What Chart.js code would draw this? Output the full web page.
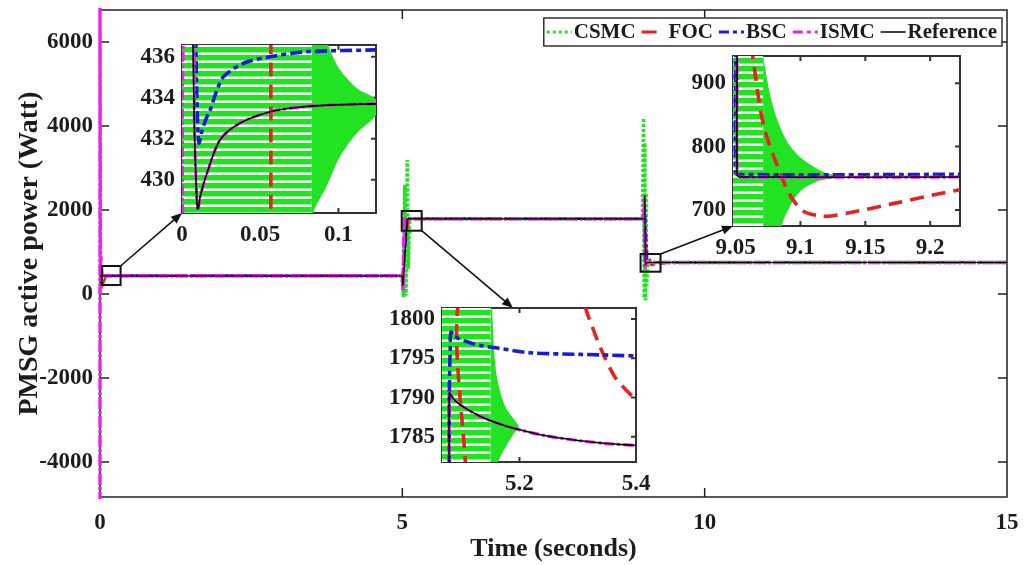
<!DOCTYPE html>
<html>
<head>
<meta charset="utf-8">
<title>PMSG active power</title>
<script src="https://cdn.jsdelivr.net/npm/chart.js@4.4.0/dist/chart.umd.min.js"></script>
<style>
  html, body { margin: 0; padding: 0; background: #fff; overflow: hidden; }
  #wrap { position: relative; width: 1025px; height: 565px; }
  #wrap canvas { position: absolute; }
</style>
</head>
<body>
<div id="wrap">
  <canvas id="main" width="1025" height="565" style="left:0;top:0"></canvas>
  <canvas id="in1"></canvas>
  <canvas id="in2"></canvas>
  <canvas id="in3"></canvas>
</div>
<script>
// ---------------- data: [time (s), power (W)] ----------------
const seriesNames = ['CSMC', 'FOC', 'BSC', 'ISMC', 'Reference'];

const mainXTicks = [0, 5, 10, 15];
const mainYTicks = [-4000, -2000, 0, 2000, 4000, 6000];

const csmcMain = [[0,434],[4.99,434],[5.02,-70],[5.04,2600],[5.06,-40],[5.08,3190],[5.1,600],[5.12,1790],
                  [8.97,1790],[8.99,4190],[9.0,-100],[9.01,3600],[9.02,-150],[9.03,2400],[9.04,200],[9.06,750],[15,750]];
const focMain  = [[0,0],[0.02,900],[0.05,250],[0.1,434],[5,434],[5.03,900],[5.1,1810],[5.4,1790],
                  [9,1790],[9.03,1100],[9.12,690],[9.4,750],[15,750]];
const bscMain  = [[0,434],[5,434],[5.01,300],[5.08,1798],[9,1790],[9.01,2100],[9.05,755],[15,755]];
const ismcMain = [[0,-5000],[0,7000],[0.008,434],[5,434],[5.01,80],[5.03,1790],[8.99,1790],[9,2300],[9.01,600],[9.03,750],[15,750]];
const refMain  = [[0,434],[5,434],[5.01,200],[5.08,1790],[9,1790],[9.01,2360],[9.02,700],[9.05,750],[15,750]];

// start-up detail, 0 – 0.124 s
const inset1XTicks = [0, 0.05, 0.1];
const inset1YTicks = [430, 432, 434, 436];
const csmcInset1Band = [[0,440],[0.083,440],[0.083,420],[0,420]];
const csmcInset1Tail = [[0.083,440],[0.0925,436.8],[0.097,435.9],[0.101,435.35],[0.1117,434.46],[0.124,433.9],
                        [0.124,433.16],[0.1117,432.27],[0.101,431.13],[0.0925,429.68],[0.0835,428.2],[0.083,420]];
const focInset1  = [[0.0568,440],[0.0568,420]];
const bscInset1  = [[0.0088,437],[0.0095,434],[0.0103,432.2],[0.011,431.79],[0.0125,432.3],[0.015,432.9],[0.018,433.4],
                    [0.022,434.3],[0.0266,435.03],[0.0393,435.68],[0.0564,436.0],[0.0798,436.24],[0.124,436.33]];
const ismcInset1 = [[0.001,420],[0.001,437.5],[0.0068,437.5],[0.008,432.27],[0.0091,429.67],[0.0098,428.6],[0.0104,428.6],
                    [0.0117,429.2],[0.016,430.33],[0.0244,431.95],[0.037,432.76],[0.0564,433.32],[0.0755,433.54],[0.0967,433.65],[0.124,433.7]];
const refInset1  = [[0.0068,437.5],[0.008,432.27],[0.0091,429.67],[0.0098,428.6],[0.0104,428.6],
                    [0.0117,429.2],[0.016,430.33],[0.0244,431.95],[0.037,432.76],[0.0564,433.32],[0.0755,433.54],[0.0967,433.65],[0.124,433.7]];

// step at 5 s, 5.067 – 5.4 s
const inset2XTicks = [5.2, 5.4];
const inset2YTicks = [1785, 1790, 1795, 1800];
const csmcInset2Band = [[5.06,1805],[5.150,1805],[5.150,1778],[5.06,1778]];
const csmcInset2Tail = [[5.150,1805],[5.153,1801.4],[5.156,1796.5],[5.162,1792.3],[5.176,1788.8],[5.196,1786.7],[5.199,1786.2],
                        [5.190,1785.4],[5.173,1783.3],[5.164,1781.8],[5.160,1778],[5.150,1778]];
const focInset2  = [[5.109,1778],[5.109,1806],[5.30,1806],[5.3135,1801.4],[5.325,1799],[5.341,1796.0],[5.363,1792.7],[5.38,1791.2],[5.4,1789.7]];
const bscInset2  = [[5.0795,1778],[5.0795,1790],[5.081,1796],[5.0825,1798.3],[5.09,1797.7],[5.11,1797.1],[5.135,1796.6],
                    [5.162,1796.3],[5.219,1795.7],[5.305,1795.5],[5.4,1795.3]];
const ismcInset2 = [[5.0796,1778],[5.0796,1790.6],[5.083,1790.2],[5.09,1789.6],[5.0985,1789.06],[5.115,1788.3],[5.133,1787.6],
                    [5.16,1786.8],[5.190,1786.1],[5.248,1785.1],[5.305,1784.5],[5.35,1784.15],[5.4,1783.9]];
const refInset2  = [[5.0796,1778],[5.0796,1790.6],[5.083,1790.2],[5.09,1789.6],[5.0985,1789.06],[5.115,1788.3],[5.133,1787.6],
                    [5.16,1786.8],[5.190,1786.1],[5.248,1785.1],[5.305,1784.5],[5.35,1784.15],[5.4,1783.9]];

// step at 9 s, 9.048 – 9.223 s
const inset3XTicks = [9.05, 9.1, 9.15, 9.2];
const inset3YTicks = [700, 800, 900];
const csmcInset3Band = [[9.04,960],[9.0712,960],[9.0712,660],[9.04,660]];
const csmcInset3Tail = [[9.0712,960],[9.0712,943],[9.0789,863],[9.0891,810],[9.0994,784],[9.1122,765.7],[9.12,757.8],[9.132,752.5],
                        [9.132,751.5],[9.12,748.3],[9.1122,744.5],[9.0994,728.8],[9.0891,694.6],[9.0855,674.7],[9.085,660],[9.0712,660]];
const focInset3  = [[9.0625,960],[9.0632,943],[9.0712,836.7],[9.0824,768.2],[9.0927,720.8],[9.103,697.1],[9.1158,690.4],
                    [9.1235,690.4],[9.1415,697.1],[9.1723,710.4],[9.212,727.8],[9.223,732]];
const bscInset3  = [[9.05,960],[9.05,762],[9.0515,756.2],[9.223,756.2]];
const ismcInset3 = [[9.0512,960],[9.0512,755],[9.053,752],[9.223,752]];
const refInset3  = [[9.0512,960],[9.0512,755],[9.053,752],[9.223,752]];

// ---------------- styles & layout ----------------
const FONT = 'Liberation Serif';
const TEXT = '#1c1c1c';
const COL = { CSMC: '#22e322', FOC: '#e62222', BSC: '#1a1ad8', ISMC: '#ee22ee', Reference: '#000000' };

// zoomed regions in data units, and where their detail panels sit on the page
const zoomRegions = [
  { t0: 0.03, t1: 0.34, p0: 214, p1: 667 },
  { t0: 4.99, t1: 5.32, p0: 1507, p1: 1976 },
  { t0: 8.94, t1: 9.27, p0: 531, p1: 952 }
];
const panels = {
  in1: { x: 182, y: 45, w: 194, h: 168, labelW: 64, labelH: 34 },
  in2: { x: 442, y: 308, w: 194, h: 154, labelW: 56, labelH: 36 },
  in3: { x: 733, y: 56, w: 227, h: 170, labelW: 60, labelH: 34 }
};

function lineDs(label, data, color, width, dash, order, tension) {
  return { label, data, borderColor: color, borderWidth: width, borderDash: dash || [],
           order, tension: tension || 0, pointRadius: 0, fill: false, clip: 0 };
}
function areaDs(data, fillStyle, order, tension) {
  return { data, borderWidth: 0, borderColor: 'rgba(0,0,0,0)', backgroundColor: fillStyle,
           fill: 'shape', pointRadius: 0, order, clip: 0, tension: tension || 0 };
}
function stripes(canvas) {
  const c = document.createElement('canvas');
  c.width = 4; c.height = 8;
  const g = c.getContext('2d');
  g.fillStyle = '#ffffff'; g.fillRect(0, 0, 4, 8);
  g.fillStyle = COL.CSMC; g.fillRect(0, 0, 4, 5.5);
  return canvas.getContext('2d').createPattern(c, 'repeat');
}

// box round the plot area with inward ticks on all four sides
const framePlugin = {
  id: 'frame',
  beforeDatasetsDraw(chart, args, o) {
    const { ctx, chartArea: a } = chart;
    const { x, y } = chart.scales;
    ctx.save();
    if (o.fill) { ctx.fillStyle = o.fill; ctx.fillRect(a.left, a.top, a.right - a.left, a.bottom - a.top); }
    ctx.strokeStyle = o.color; ctx.lineWidth = o.width;
    ctx.beginPath();
    for (const t of x.ticks) {
      const px = x.getPixelForValue(t.value);
      if (px <= a.left + 1 || px >= a.right - 1) continue;
      ctx.moveTo(px, a.bottom); ctx.lineTo(px, a.bottom - o.len);
      ctx.moveTo(px, a.top); ctx.lineTo(px, a.top + o.len);
    }
    for (const t of y.ticks) {
      const py = y.getPixelForValue(t.value);
      if (py <= a.top + 1 || py >= a.bottom - 1) continue;
      ctx.moveTo(a.left, py); ctx.lineTo(a.left + o.len, py);
      ctx.moveTo(a.right, py); ctx.lineTo(a.right - o.len, py);
    }
    ctx.stroke();
    ctx.strokeRect(a.left, a.top, a.right - a.left, a.bottom - a.top);
    ctx.restore();
  }
};

function arrow(ctx, x0, y0, x1, y1) {
  const a = Math.atan2(y1 - y0, x1 - x0), L = 11, W = 4.5;
  ctx.beginPath(); ctx.moveTo(x0, y0); ctx.lineTo(x1 - 6 * Math.cos(a), y1 - 6 * Math.sin(a)); ctx.stroke();
  ctx.beginPath();
  ctx.moveTo(x1, y1);
  ctx.lineTo(x1 - L * Math.cos(a) + W * Math.sin(a), y1 - L * Math.sin(a) - W * Math.cos(a));
  ctx.lineTo(x1 - L * Math.cos(a) - W * Math.sin(a), y1 - L * Math.sin(a) + W * Math.cos(a));
  ctx.closePath(); ctx.fill();
}

// zoom rectangles, pointer arrows and the legend box
const overlayPlugin = {
  id: 'overlay',
  afterDraw(chart) {
    const { ctx, chartArea: a } = chart;
    const { x, y } = chart.scales;
    ctx.save();
    ctx.strokeStyle = '#111'; ctx.fillStyle = '#111'; ctx.lineWidth = 2;
    const rects = zoomRegions.map(r => ({
      l: x.getPixelForValue(r.t0), r: x.getPixelForValue(r.t1),
      t: y.getPixelForValue(r.p1), b: y.getPixelForValue(r.p0)
    }));
    rects.forEach(r => ctx.strokeRect(r.l, r.t, r.r - r.l, r.b - r.t));
    ctx.lineWidth = 1.6;
    arrow(ctx, rects[0].r, rects[0].t, panels.in1.x, panels.in1.y + panels.in1.h);
    arrow(ctx, rects[1].r, rects[1].b, panels.in2.x + 71, panels.in2.y);
    arrow(ctx, rects[2].r, rects[2].t, panels.in3.x, panels.in3.y + panels.in3.h);

    // legend
    const dsByName = {};
    chart.data.datasets.forEach(d => { if (d.label) dsByName[d.label] = d; });
    ctx.font = 'bold 21px "' + FONT + '"';
    const sample = 26, gapIn = 2, gapOut = 5, padL = 2, padR = 5;
    let total = padL + padR;
    seriesNames.forEach((n, i) => {
      total += sample + gapIn + ctx.measureText(n).width + (i < seriesNames.length - 1 ? gapOut : 0);
    });
    const boxR = a.right - 5, boxL = boxR - total, boxT = a.top + 8, boxH = 28, cy = boxT + boxH / 2;
    ctx.fillStyle = '#fff'; ctx.fillRect(boxL, boxT, total, boxH);
    ctx.strokeStyle = '#333'; ctx.lineWidth = 1.5; ctx.strokeRect(boxL, boxT, total, boxH);
    let cx = boxL + padL;
    const legendDash = { CSMC: [3, 3], FOC: [15, 20], BSC: [10, 4, 4, 4], ISMC: [10, 4, 4, 4], Reference: [] };
    seriesNames.forEach(n => {
      const d = dsByName[n];
      ctx.save();
      ctx.strokeStyle = d.borderColor; ctx.lineWidth = n === 'Reference' ? 1.5 : 3;
      ctx.setLineDash(legendDash[n]);
      ctx.beginPath(); ctx.moveTo(cx + 1, cy); ctx.lineTo(cx + sample, cy); ctx.stroke();
      ctx.restore();
      cx += sample + gapIn;
      ctx.fillStyle = TEXT; ctx.textBaseline = 'middle'; ctx.textAlign = 'left';
      ctx.fillText(n, cx, cy + 1);
      cx += ctx.measureText(n).width + gapOut;
    });
    ctx.restore();
  }
};

function axis(ticksArr, min, max, fit, extra) {
  return Object.assign({
    type: 'linear', min, max,
    grid: { display: false, drawTicks: false },
    border: { display: false },
    afterBuildTicks: s => { s.ticks = ticksArr.map(v => ({ value: v })); },
    afterFit: fit,
    ticks: { autoSkip: false, maxRotation: 0, color: TEXT,
             font: { family: FONT, size: 23, weight: 'bold' }, callback: v => String(v) }
  }, extra || {});
}

// ---------------- main chart ----------------
const mainX = axis(mainXTicks, 0, 15, s => { s.height = 68; s.paddingLeft = 0; s.paddingRight = 0; }, {
  title: { display: true, text: 'Time (seconds)', color: TEXT,
           font: { family: FONT, size: 26, weight: 'bold' }, padding: { top: 0, bottom: 0 } }
});
const mainY = axis(mainYTicks, -4833, 6762, s => { s.width = 100; s.paddingTop = 0; s.paddingBottom = 0; }, {
  title: { display: true, text: 'PMSG active power (Watt)', color: TEXT,
           font: { family: FONT, size: 28, weight: 'bold' }, padding: { top: 13, bottom: 0 } }
});
mainX.ticks.padding = 12;
mainY.ticks.padding = 7;

new Chart(document.getElementById('main'), {
  type: 'line',
  data: {
    datasets: [
      lineDs('Reference', refMain, COL.Reference, 1.2, [], 0),
      lineDs('ISMC', ismcMain, COL.ISMC, 3.4, [12, 2, 3, 2], 1),
      lineDs('BSC', bscMain, COL.BSC, 2.5, [9, 3, 3, 3], 2),
      lineDs('FOC', focMain, COL.FOC, 2.5, [10, 6], 3),
      lineDs('CSMC', csmcMain, COL.CSMC, 3.5, [3, 2], 4)
    ].map(d => Object.assign(d, { clip: 2 }))
  },
  options: {
    responsive: false, animation: false, events: [],
    layout: { padding: { left: 0, top: 10, right: 18, bottom: 0 } },
    plugins: {
      legend: { display: false }, tooltip: { enabled: false },
      frame: { color: '#222', width: 1.5, len: 9 }
    },
    scales: { x: mainX, y: mainY }
  },
  plugins: [framePlugin, overlayPlugin]
});

// ---------------- detail panels ----------------
function panel(id, xr, yr, xTicks, yTicks, sets) {
  const p = panels[id], padT = 6, padR = 22;
  const cv = document.getElementById(id);
  cv.width = p.labelW + p.w + padR; cv.height = padT + p.h + p.labelH;
  cv.style.left = (p.x - p.labelW) + 'px'; cv.style.top = (p.y - padT) + 'px';
  const pat = stripes(cv);
  const xa = axis(xTicks, xr[0], xr[1], s => { s.height = p.labelH; s.paddingLeft = 0; s.paddingRight = 0; });
  const ya = axis(yTicks, yr[0], yr[1], s => { s.width = p.labelW; s.paddingTop = 0; s.paddingBottom = 0; });
  xa.ticks.padding = 8; ya.ticks.padding = 7;
  return new Chart(cv, {
    type: 'line',
    data: {
      datasets: [
        lineDs('Reference', sets.ref, COL.Reference, 1.6, [], 0, 0.3),
        lineDs('ISMC', sets.ismc, COL.ISMC, 3.2, [10, 3, 3, 3], 1, 0.3),
        lineDs('BSC', sets.bsc, COL.BSC, 3.6, [12, 4, 5, 4], 2, 0.3),
        lineDs('FOC', sets.foc, COL.FOC, 3.6, [14, 8], 3, 0.3),
        areaDs(sets.band, pat, 4, 0),
        areaDs(sets.tail, COL.CSMC, 5, 0.3)
      ]
    },
    options: {
      responsive: false, animation: false, events: [],
      layout: { padding: { left: 0, top: padT, right: padR, bottom: 0 } },
      plugins: { legend: { display: false }, tooltip: { enabled: false },
                 frame: { color: '#333', width: 2, len: 5, fill: '#fff' } },
      scales: { x: xa, y: ya }
    },
    plugins: [framePlugin]
  });
}

panel('in1', [0, 0.124], [428.38, 436.57], inset1XTicks, inset1YTicks,
  { ref: refInset1, ismc: ismcInset1, bsc: bscInset1, foc: focInset1, band: csmcInset1Band, tail: csmcInset1Tail });
panel('in2', [5.067, 5.4], [1781.8, 1801.4], inset2XTicks, inset2YTicks,
  { ref: refInset2, ismc: ismcInset2, bsc: bscInset2, foc: focInset2, band: csmcInset2Band, tail: csmcInset2Tail });
panel('in3', [9.048, 9.223], [674.7, 943], inset3XTicks, inset3YTicks,
  { ref: refInset3, ismc: ismcInset3, bsc: bscInset3, foc: focInset3, band: csmcInset3Band, tail: csmcInset3Tail });
</script>
</body>
</html>
